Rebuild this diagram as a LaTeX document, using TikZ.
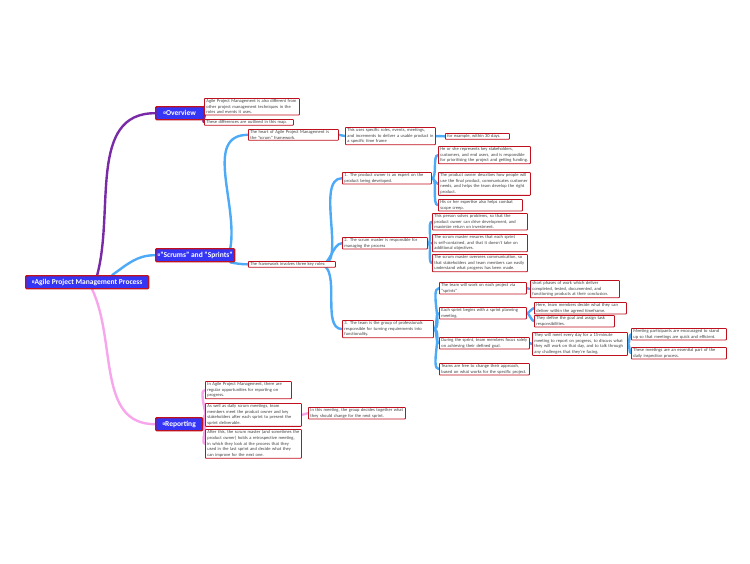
\documentclass[tikz,border=0pt]{standalone}
\usepackage{fontspec}
\setmainfont{Carlito}
\usetikzlibrary{backgrounds}
\definecolor{eblue}{HTML}{4DAAF7}
\definecolor{epurp}{HTML}{7A2AA6}
\definecolor{epink}{HTML}{F7A6EC}
\definecolor{mfill}{HTML}{3535F5}
\definecolor{bred}{HTML}{C0101E}
\begin{document}
\begin{tikzpicture}[x=1pt,y=-1pt,
  leaf/.style={draw=bred,line width=0.8pt,fill=white,rounded corners=0.6pt,anchor=north west,align=left,inner xsep=2pt,inner ysep=1pt,font=\fontsize{4.5}{5.7}\selectfont,execute at begin node={\hyphenpenalty=10000 \exhyphenpenalty=10000 },text=black!75},
  main/.style={draw=bred,line width=1.4pt,fill=mfill,rounded corners=1pt,anchor=north west,inner xsep=2pt,inner ysep=1.5pt,font=\fontsize{7.5}{8}\selectfont\bfseries,text=white},
  eb/.style={draw=eblue,line width=2.4pt,line cap=round},
  ep/.style={draw=epurp,line width=2.4pt,line cap=round},
  ek/.style={draw=epink,line width=2.4pt,line cap=round},
  c/.style={out=0,in=180,looseness=0.6}]
\useasboundingbox (0,0) rectangle (750,563);
% main nodes
\node[main,minimum width=123pt,minimum height=13pt] (root) at (25,275) {▫Agile Project Management Process};
\node[main,minimum width=48pt,minimum height=13pt] (ov) at (155,106) {▫Overview};
\node[main,minimum width=67pt,minimum height=13pt] (sc) at (155,248) {▫"Scrums" and "Sprints"};
\node[main,minimum width=47pt,minimum height=13pt] (rp) at (155,417) {▫Reporting};
% overview
\node[leaf,text width=91pt] (o1) at (204,98) {Agile Project Management is also different from other project management techniques in the roles and events it uses.};
\node[leaf,text width=85pt] (o2) at (204,119) {These differences are outlined in this map.};
% scrums
\node[leaf,text width=86pt] (s1) at (248,129) {The heart of Agile Project Management is the "scrum" framework.};
\node[leaf,text width=86pt] (s1a) at (345,127) {This uses specific roles, events, meetings, and increments to deliver a usable product in a specific time frame};
\node[leaf,text width=60pt] (s1b) at (445,133) {for example, within 30 days.};
\node[leaf,text width=83pt] (s2) at (248,261) {The framework involves three key roles:};
\node[leaf,text width=85pt] (r1) at (342,172) {1. The product owner is an expert on the product being developed.};
\node[leaf,text width=88pt] (r1a) at (438,146) {He or she represents key stakeholders, customers, and end users, and is responsible for prioritising the project and getting funding.};
\node[leaf,text width=88pt] (r1b) at (438,172) {The product owner describes how people will use the final product, communicates customer needs, and helps the team develop the right product.};
\node[leaf,text width=80pt] (r1c) at (438,199) {His or her expertise also helps combat scope creep.};
\node[leaf,text width=81pt] (r2) at (342,237) {2. The scrum master is responsible for managing the process};
\node[leaf,text width=91pt] (r2a) at (432,213) {This person solves problems, so that the product owner can drive development, and maximize return on investment.};
\node[leaf,text width=91pt] (r2b) at (432,234) {The scrum master ensures that each sprint is self-contained, and that it doesn't take on additional objectives.};
\node[leaf,text width=91pt] (r2c) at (432,254) {The scrum master oversees communication, so that stakeholders and team members can easily understand what progress has been made.};
\node[leaf,text width=87pt] (r3) at (342,320) {3. The team is the group of professionals responsible for turning requirements into functionality.};
\node[leaf,text width=83pt] (r3a) at (439,282) {The team will work on each project via "sprints"};
\node[leaf,text width=85pt] (r3a1) at (530,280) {short phases of work which deliver completed, tested, documented, and functioning products at their conclusion.};
\node[leaf,text width=83pt] (r3b) at (439,307) {Each sprint begins with a sprint planning meeting.};
\node[leaf,text width=88pt] (r3b1) at (534,302) {Here, team members decide what they can deliver within the agreed timeframe.};
\node[leaf,text width=76pt] (r3b2) at (534,315) {They define the goal and assign task responsibilities.};
\node[leaf,text width=86pt] (r3c) at (439,337) {During the sprint, team members focus solely on achieving their defined goal.};
\node[leaf,text width=91pt] (r3c1) at (532,332) {They will meet every day for a 15-minute meeting to report on progress, to discuss what they will work on that day, and to talk through any challenges that they're facing.};
\node[leaf,text width=91pt] (r3c1a) at (631,328) {Meeting participants are encouraged to stand up so that meetings are quick and efficient.};
\node[leaf,text width=91pt] (r3c1b) at (631,347) {These meetings are an essential part of the daily inspection process.};
\node[leaf,text width=86pt] (r3d) at (439,363) {Teams are free to change their approach, based on what works for the specific project.};
% reporting
\node[leaf,text width=82pt] (p1) at (205,381) {In Agile Project Management, there are regular opportunities for reporting on progress.};
\node[leaf,text width=92pt] (p2) at (205,403) {As well as daily scrum meetings, team members meet the product owner and key stakeholders after each sprint to present the sprint deliverable.};
\node[leaf,text width=93pt] (p2a) at (308,407) {In this meeting, the group decides together what they should change for the next sprint.};
\node[leaf,text width=92pt] (p3) at (205,429) {After this, the scrum master (and sometimes the product owner) holds a retrospective meeting, in which they look at the process that they used in the last sprint and decide what they can improve for the next one.};
% edges
\begin{scope}[on background layer]
\draw[ep] ([xshift=10pt]root.north) to[out=75,in=180] (ov.west);
\draw[eb] ([xshift=25pt]root.north) to[out=35,in=180] (sc.west);
\draw[ek] ([xshift=5pt]root.south) to[out=-65,in=180] (rp.west);
\draw[ep] (ov.east) to[c] (o1.west);
\draw[ep] (ov.east) to[c] (o2.west);
\draw[eb] ([xshift=-5pt]sc.south east) to[out=-10,in=180] (s2.west);
\draw[eb] ([xshift=-5pt]sc.north east) to[out=80,in=180] (s1.west);
\draw[eb] (s1.east) -- (s1a.west);
\draw[eb] (s1a.east) -- (s1b.west);
\foreach \c in {r1,r2,r3} \draw[eb] ([xshift=-15pt]s2.east) to[out=-10,in=180,looseness=0.8] (\c.west);
\foreach \c in {r1a,r1b,r1c} \draw[eb] (r1.east) to[c] (\c.west);
\foreach \c in {r2a,r2b,r2c} \draw[eb] (r2.east) to[c] (\c.west);
\foreach \c in {r3a,r3b,r3c,r3d} \draw[eb] (r3.east) to[c] (\c.west);
\draw[eb] (r3a.east) -- (r3a1.west);
\foreach \c in {r3b1,r3b2} \draw[eb] (r3b.east) to[c] (\c.west);
\draw[eb] (r3c.east) -- (r3c1.west);
\foreach \c in {r3c1a,r3c1b} \draw[eb] (r3c1.east) to[c] (\c.west);
\foreach \c in {p1,p2,p3} \draw[ek] (rp.east) to[c] (\c.west);
\draw[ek] (p2.east) -- (p2a.west);
\end{scope}
\end{tikzpicture}
\end{document}
